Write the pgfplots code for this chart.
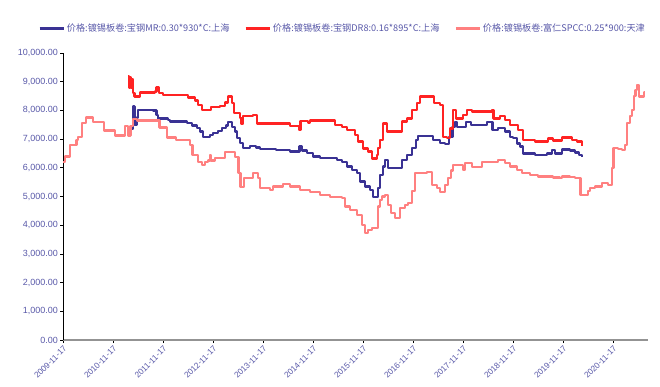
\documentclass[border=0pt]{standalone}
\usepackage{fontspec}
\setmainfont{Liberation Sans}
\newfontfamily\cjk{Noto Sans CJK SC}
\usepackage{pgfplots}
\pgfplotsset{compat=1.18}
\definecolor{cnavy}{RGB}{58,50,148}
\definecolor{cred}{RGB}{255,35,35}
\definecolor{cpink}{RGB}{255,128,128}
\definecolor{ctxt}{RGB}{88,88,168}
\begin{document}
\begin{tikzpicture}
\useasboundingbox (-63bp,-47bp) rectangle (597bp,340bp);
\begin{axis}[
  at={(0,0)}, anchor=south west,
  scale only axis, width=585bp, height=287bp,
  xmin=0, xmax=11.7, ymin=0, ymax=10000,
  axis x line=bottom, axis y line=left,
  x axis line style={-, draw=gray!85, line width=1.6bp},
  y axis line style={-, draw=black, line width=0.8bp},
  tick align=outside, major tick length=3bp,
  tick style={black, line width=0.6bp},
  xtick={0,1,2,3,4,5,6,7,8,9,10,11},
  xticklabels={2009-11-17,2010-11-17,2011-11-17,2012-11-17,2013-11-17,2014-11-17,2015-11-17,2016-11-17,2017-11-17,2018-11-17,2019-11-17,2020-11-17},
  xticklabel style={rotate=45, anchor=north east, inner sep=1.5bp, font=\fontsize{8.3}{10}\selectfont, text=ctxt},
  ytick={0,1000,2000,3000,4000,5000,6000,7000,8000,9000,10000},
  yticklabel style={font=\fontsize{9}{10}\selectfont, text=ctxt, inner sep=2bp},
  scaled y ticks=false,
  /pgf/number format/.cd, fixed, fixed zerofill, precision=2, 1000 sep={,}, assume math mode=true,
  /pgfplots/.cd,
  legend columns=3,
  legend style={at={(0.478,1.085)}, anchor=center, draw=none, fill=none,
    font=\cjk\fontsize{9.2}{11}\selectfont, text=ctxt,
    /tikz/every even column/.append style={column sep=13bp}},
  legend image code/.code={\draw[#1, line width=2.5bp] (0,0) -- (24bp,0);},
  clip=false,
]
\addplot[const plot, cnavy, line width=2.5bp, line join=round] coordinates {
(1.37,7350) (1.40,8130) (1.43,7500) (1.48,7750) (1.50,8010) (1.80,7990)
(1.87,7840) (1.90,7720) (2.10,7660) (2.14,7610) (2.48,7560) (2.58,7480)
(2.68,7390) (2.74,7260) (2.80,7080) (2.88,7070) (2.94,7150) (3.00,7210)
(3.10,7290) (3.18,7390) (3.26,7480) (3.30,7600) (3.38,7430) (3.44,7260)
(3.48,7040) (3.54,6860) (3.60,6690) (3.74,6760) (3.86,6700) (3.94,6650)
(4.26,6620) (4.54,6560) (4.73,6740) (4.78,6600) (4.88,6520) (5.00,6390)
(5.14,6340) (5.48,6270) (5.58,6210) (5.68,6040) (5.78,5920) (5.88,5820)
(5.94,5520) (6.04,5340) (6.14,5230) (6.20,4990) (6.30,5300) (6.34,5750)
(6.40,6040) (6.44,6270) (6.50,5990) (6.78,6270) (6.88,6450) (6.98,6690)
(7.06,6970) (7.10,7100) (7.40,6970) (7.54,6860) (7.64,6830) (7.72,7080)
(7.79,7430) (7.84,7600) (7.88,7430) (8.06,7600) (8.16,7490) (8.48,7600)
(8.59,7320) (8.70,7390) (8.84,7260) (8.94,7080) (9.00,7040) (9.08,6850)
(9.14,6740) (9.20,6500) (9.44,6450) (9.68,6500) (9.78,6620) (9.84,6500)
(9.98,6640) (10.14,6600) (10.24,6530) (10.32,6450) (10.38,6360)
};
\addlegendentry{价格:镀锡板卷:宝钢MR:0.30*930*C:上海}
\addplot[const plot, cred, line width=2.5bp, line join=round] coordinates {
(1.30,9200) (1.32,8800) (1.34,9150) (1.36,8800) (1.38,9100) (1.40,8600)
(1.43,8480) (1.54,8630) (1.84,8650) (1.87,8790) (1.92,8600) (2.00,8540)
(2.50,8450) (2.64,8340) (2.70,8190) (2.78,8010) (2.96,8110) (3.14,8150)
(3.24,8270) (3.30,8480) (3.38,8260) (3.42,7910) (3.54,7740) (3.57,7530)
(3.60,7800) (3.80,7840) (3.88,7550) (4.54,7460) (4.72,7320) (4.75,7630)
(4.90,7570) (4.94,7640) (5.44,7490) (5.58,7430) (5.68,7320) (5.84,7140)
(5.90,6910) (6.00,6680) (6.10,6560) (6.18,6330) (6.28,6450) (6.30,6690)
(6.34,6970) (6.40,7550) (6.48,7260) (6.78,7610) (6.88,7720) (6.98,8010)
(7.08,8250) (7.14,8480) (7.42,8250) (7.54,8190) (7.60,7080) (7.68,7040)
(7.74,7370) (7.80,8010) (7.86,7720) (8.00,7840) (8.08,8010) (8.18,7960)
(8.58,8010) (8.61,7720) (8.74,7800) (8.84,7670) (8.94,7490) (9.10,7320)
(9.20,6970) (9.44,6910) (9.70,7020) (9.80,6950) (9.98,7060) (10.18,6970)
(10.28,6910) (10.38,6760)
};
\addlegendentry{价格:镀锡板卷:宝钢DR8:0.16*895*C:上海}
\addplot[const plot, cpink, line width=2.5bp, line join=round] coordinates {
(0,6200) (0.04,6390) (0.14,6790) (0.27,6970) (0.30,7080) (0.38,7560)
(0.46,7750) (0.60,7600) (0.82,7300) (1.04,7120) (1.24,7450) (1.30,7120)
(1.35,7450) (1.40,7700) (1.48,7650) (1.93,7400) (2.08,7050) (2.26,6970)
(2.54,6800) (2.59,6450) (2.70,6200) (2.78,6100) (2.84,6200) (2.90,6260)
(2.94,6450) (2.96,6250) (3.04,6350) (3.24,6550) (3.44,6380) (3.51,5820)
(3.55,5330) (3.62,5640) (3.80,5820) (3.90,5640) (3.94,5300) (4.14,5230)
(4.20,5340) (4.40,5430) (4.54,5340) (4.74,5230) (4.94,5150) (5.14,5050)
(5.34,4990) (5.58,4950) (5.64,4650) (5.74,4530) (5.88,4360) (5.98,4010)
(6.04,3730) (6.10,3830) (6.18,3900) (6.30,4650) (6.34,4880) (6.38,5000)
(6.44,5050) (6.50,4700) (6.56,4430) (6.64,4250) (6.74,4600) (6.84,4700)
(6.90,4770) (6.98,5200) (7.04,5820) (7.28,5850) (7.38,5400) (7.48,5300)
(7.54,5160) (7.64,5400) (7.70,5640) (7.76,5900) (7.80,6100) (8.00,5920)
(8.04,6170) (8.18,6030) (8.38,6200) (8.48,6210) (8.70,6270) (8.84,6170)
(8.94,6040) (9.08,5920) (9.18,5820) (9.34,5750) (9.50,5690) (9.80,5660)
(9.94,5640) (9.98,5690) (10.14,5680) (10.24,5650) (10.35,5050) (10.42,5060)
(10.50,5200) (10.54,5300) (10.64,5340) (10.78,5470) (10.90,5400) (10.98,6000)
(11.01,6690) (11.10,6650) (11.18,6620) (11.24,6800) (11.28,7560) (11.34,7800)
(11.38,8010) (11.42,8500) (11.45,8710) (11.48,8880) (11.52,8480) (11.58,8480)
(11.62,8620) (11.64,8620)
};
\addlegendentry{价格:镀锡板卷:富仁SPCC:0.25*900:天津}
\end{axis}
\end{tikzpicture}
\end{document}
